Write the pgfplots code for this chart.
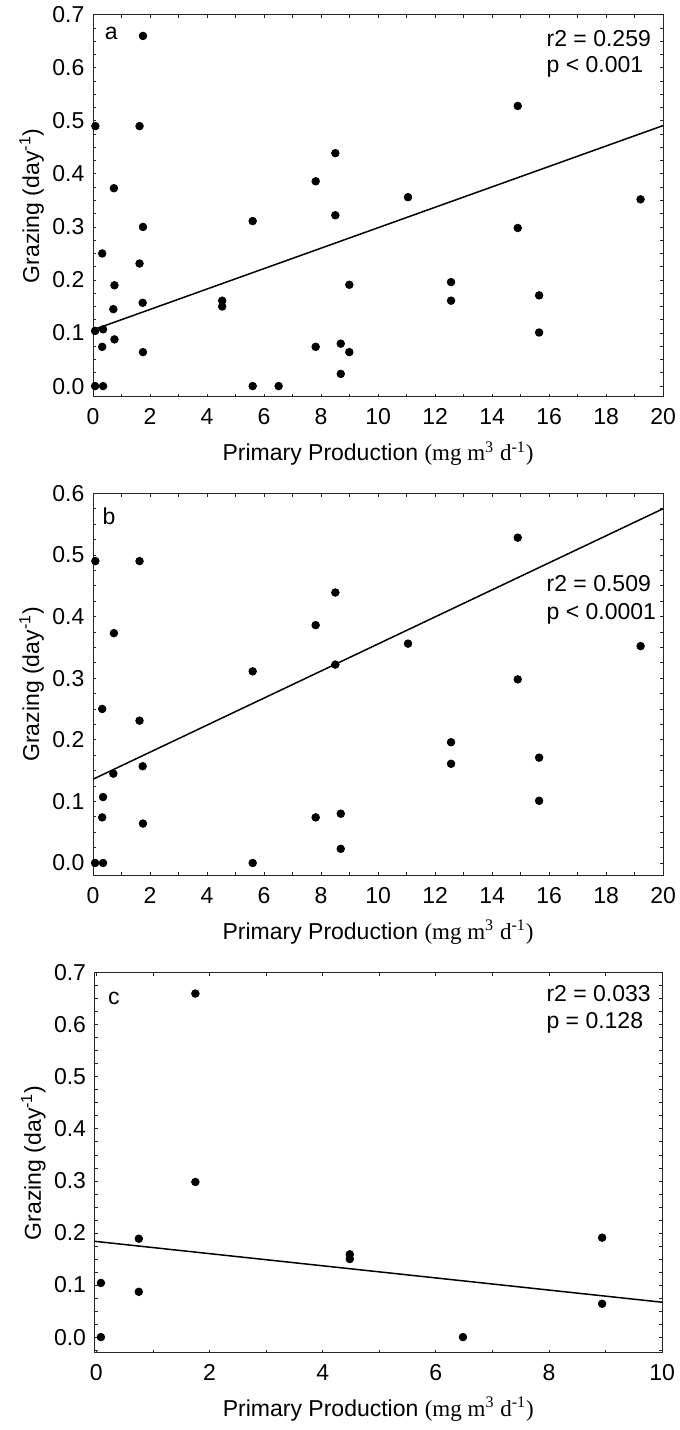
\documentclass[border=0pt]{standalone}
\usepackage{pgfplots}
\pgfplotsset{compat=1.18}
\usepackage{fontspec}
\setmainfont{Liberation Sans}
\newfontfamily\serifunit{Liberation Serif}
\newcommand{\fs}{\fontsize{11.5}{13}\selectfont}
\begin{document}
\fs
\pgfplotsset{
  myaxis/.style={
    scale only axis, width=285pt, height=191pt,
    anchor=north west,
    axis line style={line width=0.5pt, black!85},
    tick align=inside,
    major tick length=1.6pt, minor tick length=1.6pt,
    every tick/.style={black!85, line width=0.4pt},
    xtick distance=2, minor x tick num=1,
    ytick distance=0.1, minor y tick num=3,
    /pgf/number format/assume math mode=true,
    yticklabel style={/pgf/number format/fixed, /pgf/number format/fixed zerofill, /pgf/number format/precision=1, xshift=-0.3pt},
    xticklabel style={yshift=-2pt},
    ticklabel style={font=\fs},
    label style={font=\fs},
    xlabel={Primary Production {\serifunit (mg m\textsuperscript{3} d\textsuperscript{-1})}},
    ylabel={Grazing (day\textsuperscript{-1})},
    xlabel style={at={(axis description cs:0.5,-0.149)}, anchor=center},
    ylabel style={at={(axis description cs:-0.108,0.5)}, anchor=center},
    clip=false,
  },
  pts/.style={only marks, mark=*, mark size=1.9pt, black},
  fitl/.style={black, line width=0.75pt, no marks},
}
\begin{tikzpicture}
\useasboundingbox (0,0) rectangle (336.5pt,-715pt);
% ---------- panel a ----------
\begin{axis}[myaxis, at={(43.35pt,-7.35pt)}, xmin=0, xmax=20, ymin=-0.02, ymax=0.7]
\addplot[pts] coordinates {
(0.08,0.490) (1.75,0.660) (1.63,0.490) (0.73,0.373) (1.75,0.300) (0.32,0.250)
(1.63,0.231) (0.75,0.190) (0.71,0.145) (1.74,0.157) (0.07,0.104) (0.35,0.107)
(0.32,0.074) (0.75,0.088) (1.75,0.064) (0.07,0.000) (0.35,0.000) (4.53,0.161)
(4.53,0.150) (5.60,0.311) (5.60,0.000) (6.51,0.000) (7.81,0.386) (7.81,0.074)
(8.50,0.439) (8.50,0.322) (8.69,0.080) (8.69,0.023) (8.99,0.191) (8.99,0.064)
(11.05,0.356) (12.56,0.196) (12.56,0.161) (14.90,0.528) (14.90,0.298)
(15.65,0.171) (15.65,0.101) (19.21,0.352)};
\addplot[fitl] coordinates {(0,0.106) (20,0.491)};
\node[font=\fs] at (axis cs:0.64,0.665) {a};
\node[anchor=west, inner sep=0pt, font=\fs] at (axis cs:15.9,0.655) {r2 = 0.259};
\node[anchor=west, inner sep=0pt, font=\fs] at (axis cs:15.9,0.602) {p < 0.001};
\end{axis}
% ---------- panel b ----------
\begin{axis}[myaxis, at={(43.35pt,-246.65pt)}, xmin=0, xmax=20, ymin=-0.02, ymax=0.6]
\addplot[pts] coordinates {
(0.08,0.490) (1.63,0.490) (0.73,0.373) (0.32,0.250) (1.63,0.231) (0.71,0.145)
(1.74,0.157) (0.35,0.107) (0.32,0.074) (1.75,0.064) (0.07,0.000) (0.35,0.000)
(5.60,0.311) (5.60,0.000) (7.81,0.386) (7.81,0.074) (8.50,0.439) (8.50,0.322)
(8.69,0.080) (8.69,0.023) (11.05,0.356) (12.56,0.196) (12.56,0.161)
(14.90,0.528) (14.90,0.298) (15.65,0.171) (15.65,0.101) (19.21,0.352)};
\addplot[fitl] coordinates {(0,0.136) (20,0.575)};
\node[font=\fs] at (axis cs:0.56,0.562) {b};
\node[anchor=west, inner sep=0pt, font=\fs] at (axis cs:15.9,0.454) {r2 = 0.509};
\node[anchor=west, inner sep=0pt, font=\fs] at (axis cs:15.9,0.405) {p < 0.0001};
\end{axis}
% ---------- panel c ----------
\begin{axis}[myaxis, at={(44.15pt,-486.35pt)}, width=283.7pt, height=190pt,
  xmin=-0.03, xmax=10, ymin=-0.03, ymax=0.7]
\addplot[pts] coordinates {
(0.08,0.104) (0.08,0.000) (0.75,0.189) (0.75,0.087) (1.75,0.660) (1.75,0.298)
(4.48,0.159) (4.48,0.150) (6.48,0.000) (8.94,0.191) (8.94,0.064)};
\addplot[fitl] coordinates {(-0.03,0.184) (10,0.067)};
\node[font=\fs] at (axis cs:0.31,0.650) {c};
\node[anchor=west, inner sep=0pt, font=\fs] at (axis cs:7.95,0.660) {r2 = 0.033};
\node[anchor=west, inner sep=0pt, font=\fs] at (axis cs:7.95,0.604) {p = 0.128};
\end{axis}
\end{tikzpicture}
\end{document}
